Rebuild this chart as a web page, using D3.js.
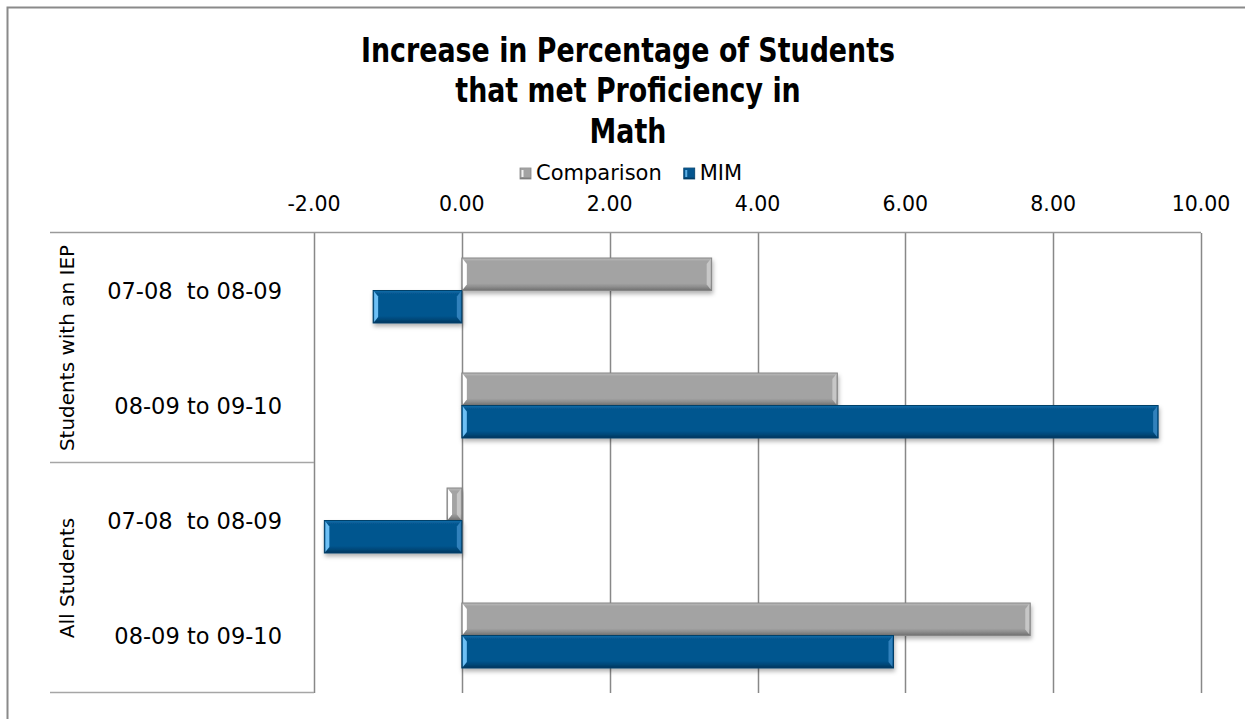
<!DOCTYPE html>
<html>
<head>
<meta charset="utf-8">
<script src="https://cdn.jsdelivr.net/npm/d3@7"></script>
<style>
  html, body { margin: 0; padding: 0; background: #fff; }
  svg { display: block; }
  .lbl { font-family: "DejaVu Sans", "Lato", sans-serif; fill: #000; }
  .ttl { font-family: "DejaVu Sans", sans-serif; font-weight: bold; fill: #000; }
</style>
</head>
<body>
<div id="chart"></div>
<script>
// Increase in Percentage of Students that met Proficiency in Math — horizontal grouped bars
(function () {
  "use strict";

  // data, top to bottom
  var GROUPS = ["Students with an IEP", "All Students"];
  var PERIODS = ["07-08  to 08-09", "08-09 to 09-10", "07-08  to 08-09", "08-09 to 09-10"];
  var SERIES = ["Comparison", "MIM"];
  var COMPARISON = [3.38, 5.08, -0.20, 7.69];
  var MIM = [-1.20, 9.42, -1.86, 5.84];
  var TICKS = [-2, 0, 2, 4, 6, 8, 10];
  var TITLE = ["Increase in Percentage of Students", "that met Proficiency in", "Math"];

  var W = 1245, H = 719;
  var plot = { left: 314, right: 1201, top: 233, bottom: 693 };
  var tableLeft = 50;

  var svg = d3.select("#chart").append("svg").attr("width", W).attr("height", H);
  var defs = svg.append("defs");

  var STYLE = {
    Comparison: { top: "#bdbdbd", mid: "#a3a3a3", low: "#8f8f8f", bot: "#6f6f6f", stroke: "#858585", hiL: "#ffffff", hiR: "#d0d0d0" },
    MIM:        { top: "#1670ad", mid: "#05568f", low: "#044a7c", bot: "#02365c", stroke: "#043f69", hiL: "#6ec0f5", hiR: "#3d8cc7" }
  };

  SERIES.forEach(function (s) {
    var st = STYLE[s];
    var gr = defs.append("linearGradient").attr("id", "grad-" + s).attr("x1", 0).attr("y1", 0).attr("x2", 0).attr("y2", 1);
    gr.append("stop").attr("offset", "0%").attr("stop-color", st.top);
    gr.append("stop").attr("offset", "10%").attr("stop-color", st.mid);
    gr.append("stop").attr("offset", "78%").attr("stop-color", st.mid);
    gr.append("stop").attr("offset", "88%").attr("stop-color", st.low);
    gr.append("stop").attr("offset", "100%").attr("stop-color", st.bot);
  });
  var sh = defs.append("filter").attr("id", "shadow").attr("x", "-5%").attr("y", "-20%").attr("width", "115%").attr("height", "160%");
  sh.append("feDropShadow").attr("dx", 1).attr("dy", 3).attr("stdDeviation", 2).attr("flood-color", "#000").attr("flood-opacity", 0.3);

  // outer chart frame (left and top edges visible)
  svg.append("path").attr("d", "M7.5," + (H + 10) + "V7.5H" + (W + 10))
    .attr("fill", "none").attr("stroke", "#8a8a8a").attr("stroke-width", 2);

  // title — condensed look: squeeze horizontally around the centre
  var title = svg.append("text").attr("class", "ttl").attr("text-anchor", "middle").style("font-size", "34px")
    .attr("transform", "translate(628,0) scale(0.79,1)");
  TITLE.forEach(function (t, i) {
    title.append("tspan").attr("x", 0).attr("y", 62 + i * 40.5).text(t);
  });

  // scales
  var x = d3.scaleLinear().domain([TICKS[0], TICKS[TICKS.length - 1]]).range([plot.left, plot.right]);
  var y = d3.scaleBand().domain(d3.range(PERIODS.length)).range([plot.top, plot.bottom]);
  var ys = d3.scaleBand().domain(SERIES).range([0, y.bandwidth()]).paddingOuter(0.77);
  var gy = d3.scaleBand().domain(GROUPS).range([plot.top, plot.bottom]);

  // legend
  var legend = svg.append("g").attr("transform", "translate(520,173)");
  var lx = 0;
  SERIES.forEach(function (s) {
    var it = legend.append("g").attr("transform", "translate(" + lx + ",0)");
    it.append("rect").attr("x", 0).attr("y", -5).attr("width", 11).attr("height", 11)
      .attr("fill", "url(#grad-" + s + ")").attr("stroke", STYLE[s].stroke).attr("stroke-width", 0.8);
    it.append("rect").attr("x", 1.5).attr("y", -3).attr("width", 2).attr("height", 7).attr("fill", STYLE[s].hiL).attr("opacity", 0.85);
    var t = it.append("text").attr("class", "lbl").attr("x", 16).attr("dy", "0.35em").style("font-size", "21px").text(s);
    lx += 16 + t.node().getComputedTextLength() + 22;
  });

  // gridlines
  svg.append("g").selectAll("line").data(TICKS).join("line")
    .attr("x1", function (d) { return Math.round(x(d)) + 0.5; })
    .attr("x2", function (d) { return Math.round(x(d)) + 0.5; })
    .attr("y1", plot.top).attr("y2", plot.bottom)
    .attr("stroke", "#888").attr("stroke-width", 1.5);

  // top value axis line + tick labels
  svg.append("line").attr("x1", tableLeft).attr("x2", plot.right).attr("y1", plot.top - 0.5).attr("y2", plot.top - 0.5)
    .attr("stroke", "#9a9a9a").attr("stroke-width", 1.5);
  svg.append("g").selectAll("text").data(TICKS).join("text")
    .attr("class", "lbl").attr("text-anchor", "middle")
    .attr("x", function (d) { return x(d); }).attr("y", 211)
    .style("font-size", "20.5px")
    .text(function (d) { return d3.format(".2f")(d).replace("−", "-"); });

  // category table: group separators
  svg.append("g").selectAll("line").data(GROUPS).join("line")
    .attr("x1", tableLeft).attr("x2", plot.left)
    .attr("y1", function (d) { return Math.round(gy(d) + gy.bandwidth()) - 0.5; })
    .attr("y2", function (d) { return Math.round(gy(d) + gy.bandwidth()) - 0.5; })
    .attr("stroke", "#a6a6a6").attr("stroke-width", 1.5);

  // group labels (rotated)
  svg.append("g").selectAll("text").data(GROUPS).join("text")
    .attr("class", "lbl").attr("text-anchor", "middle").attr("dy", "0.35em")
    .attr("transform", function (d) { return "translate(67," + (gy(d) + gy.bandwidth() / 2) + ") rotate(-90)"; })
    .style("font-size", "20px")
    .text(function (d) { return d; });

  // period labels
  svg.append("g").selectAll("text").data(PERIODS).join("text")
    .attr("class", "lbl").attr("text-anchor", "end").attr("dy", "0.35em")
    .attr("x", 282).attr("y", function (d, i) { return y(i) + y.bandwidth() / 2 + 1; })
    .style("font-size", "22.5px").style("white-space", "pre")
    .attr("xml:space", "preserve")
    .text(function (d) { return d; });

  // bars
  var rows = [];
  PERIODS.forEach(function (p, i) {
    rows.push({ i: i, s: "Comparison", v: COMPARISON[i] });
    rows.push({ i: i, s: "MIM", v: MIM[i] });
  });
  var bars = svg.append("g").selectAll("g").data(rows).join("g")
    .attr("transform", function (d) { return "translate(0," + (y(d.i) + ys(d.s)) + ")"; });
  var bh = ys.bandwidth();
  function x0(d) { return Math.min(x(0), x(d.v)); }
  function bw(d) { return Math.abs(x(d.v) - x(0)); }
  bars.append("rect").attr("x", x0).attr("y", 0).attr("width", bw).attr("height", bh)
    .attr("fill", function (d) { return "url(#grad-" + d.s + ")"; })
    .attr("stroke", function (d) { return STYLE[d.s].stroke; }).attr("stroke-width", 1)
    .attr("filter", "url(#shadow)");
  // bevel highlights at both ends
  bars.append("path")
    .attr("d", function (d) { var a = x0(d) + 1; return "M" + a + "," + 1 + "L" + (a + 4) + "," + 6 + "V" + (bh - 6) + "L" + a + "," + (bh - 1) + "Z"; })
    .attr("fill", function (d) { return STYLE[d.s].hiL; });
  bars.append("path")
    .attr("d", function (d) { var b = x0(d) + bw(d) - 1; return "M" + b + "," + 1 + "L" + (b - 4) + "," + 6 + "V" + (bh - 6) + "L" + b + "," + (bh - 1) + "Z"; })
    .attr("fill", function (d) { return STYLE[d.s].hiR; }).attr("opacity", 0.8);
})();
</script>
</body>
</html>
